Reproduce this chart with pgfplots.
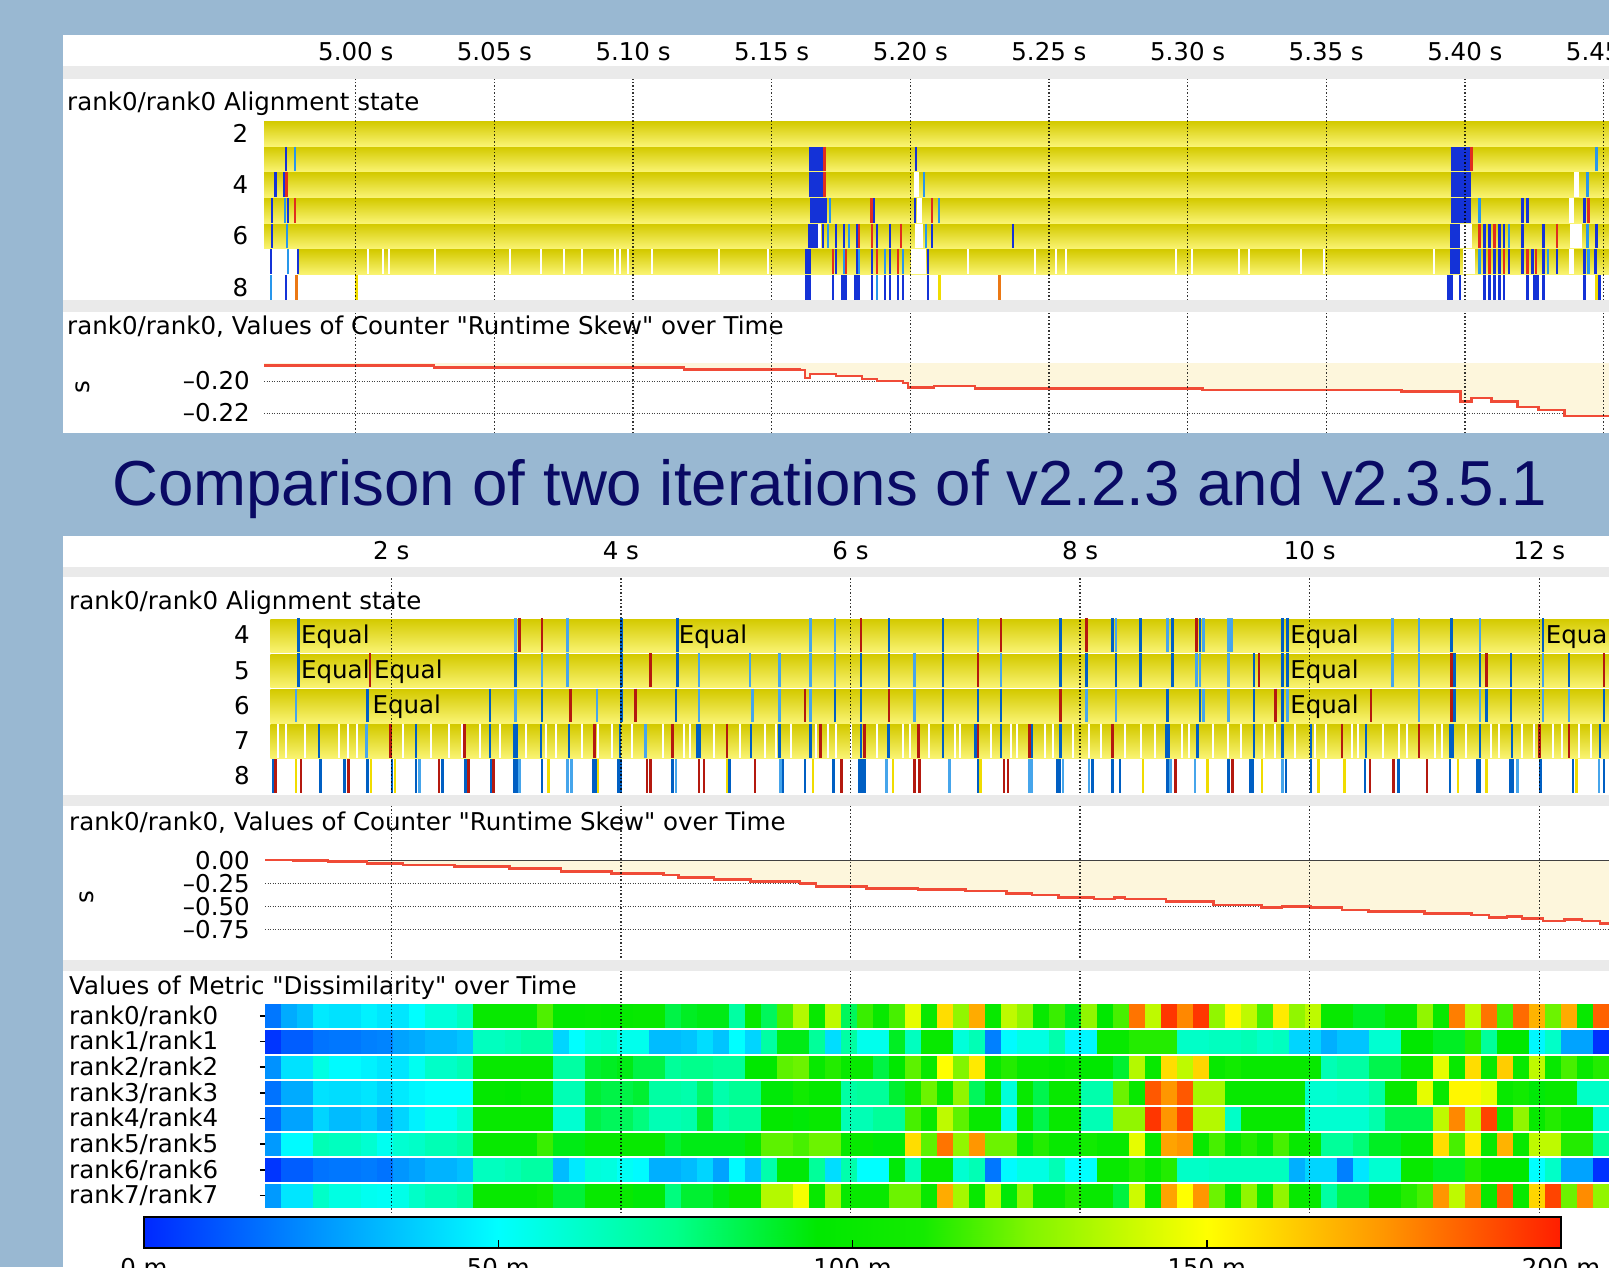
\documentclass[border=0pt]{standalone}
\usepackage{fontspec}
\setmainfont{DejaVu Sans}[Ligatures=TeXOff]
\newfontfamily\titlefont{Liberation Sans}
\usepackage{pgfplots}
\pgfplotsset{compat=1.18}
\usepackage{pgfplotstable}

\definecolor{bgblue}{RGB}{153,184,210}
\definecolor{bandgray}{RGB}{234,234,234}
\definecolor{ydark}{RGB}{212,202,0}
\definecolor{ylight}{RGB}{250,244,115}
\definecolor{cream}{RGB}{253,246,220}
\definecolor{skewred}{RGB}{240,75,55}
\definecolor{tb}{RGB}{20,50,215}
\definecolor{tlb}{RGB}{40,150,235}
\definecolor{tr}{RGB}{225,45,30}
\definecolor{tor}{RGB}{235,120,20}
\definecolor{bb}{RGB}{0,95,195}
\definecolor{blb}{RGB}{70,165,235}
\definecolor{br}{RGB}{180,25,15}
\definecolor{by}{RGB}{240,220,0}
\definecolor{navy}{RGB}{10,10,100}

\newcommand\lbl{\fontsize{24.5}{29}\selectfont}

\pgfdeclareplotmark{cell}{\pgfpathrectangle{\pgfqpoint{-8.2pt}{-11.25pt}}{\pgfqpoint{16.4pt}{22.5pt}}\pgfusepathqfillstroke}

% Dissimilarity values, one table per rank (84 time cells each)
\pgfplotstableread[row sep=\\]{v\\18\\30\\35\\45\\43\\43\\47\\44\\44\\50\\58\\58\\64\\100\\100\\100\\100\\118\\98\\98\\100\\98\\98\\100\\100\\85\\90\\92\\92\\70\\100\\82\\117\\135\\100\\137\\82\\115\\100\\117\\145\\100\\158\\128\\170\\100\\137\\128\\100\\115\\92\\128\\95\\117\\182\\137\\195\\178\\195\\128\\152\\137\\117\\155\\128\\137\\100\\100\\90\\90\\100\\100\\128\\100\\180\\137\\182\\117\\184\\168\\122\\170\\100\\186\\}\rankA
\pgfplotstableread[row sep=\\]{v\\3\\12\\12\\17\\18\\18\\20\\21\\28\\30\\33\\33\\36\\64\\64\\66\\70\\70\\40\\50\\58\\60\\54\\54\\34\\34\\36\\42\\36\\50\\40\\70\\92\\92\\72\\42\\70\\54\\54\\90\\64\\100\\100\\58\\66\\20\\49\\56\\56\\68\\48\\48\\100\\100\\112\\112\\112\\62\\62\\64\\64\\66\\62\\64\\40\\40\\31\\36\\36\\60\\60\\95\\95\\90\\90\\112\\72\\95\\95\\48\\62\\28\\28\\2\\}\rankB
\pgfplotstableread[row sep=\\]{v\\24\\43\\43\\56\\49\\49\\47\\44\\44\\53\\62\\62\\66\\100\\100\\100\\100\\100\\70\\70\\88\\90\\92\\85\\85\\72\\75\\75\\72\\72\\95\\95\\120\\122\\100\\112\\100\\100\\85\\95\\120\\100\\150\\125\\155\\100\\112\\100\\100\\96\\100\\95\\95\\88\\135\\100\\158\\137\\160\\100\\108\\100\\100\\100\\100\\100\\66\\70\\70\\84\\84\\100\\100\\145\\100\\158\\100\\162\\100\\137\\100\\117\\100\\112\\}\rankC
\pgfplotstableread[row sep=\\]{v\\17\\30\\30\\43\\42\\42\\44\\40\\45\\48\\50\\50\\50\\97\\97\\95\\100\\100\\66\\66\\88\\85\\85\\88\\70\\70\\68\\80\\68\\73\\73\\94\\94\\108\\98\\98\\70\\72\\72\\88\\106\\122\\100\\128\\82\\100\\58\\100\\84\\100\\100\\68\\68\\122\\100\\188\\175\\188\\132\\132\\100\\100\\100\\100\\100\\60\\60\\62\\62\\70\\100\\100\\145\\100\\152\\152\\145\\100\\108\\94\\100\\100\\62\\62\\}\rankD
\pgfplotstableread[row sep=\\]{v\\15\\28\\28\\40\\34\\34\\37\\31\\40\\47\\53\\53\\60\\100\\100\\100\\100\\100\\60\\60\\85\\82\\82\\77\\66\\66\\68\\88\\68\\72\\72\\97\\97\\94\\100\\100\\66\\66\\72\\72\\117\\100\\137\\120\\100\\100\\54\\100\\84\\100\\100\\66\\66\\128\\128\\195\\175\\192\\135\\135\\62\\100\\100\\100\\100\\60\\60\\60\\60\\68\\84\\84\\84\\137\\178\\137\\192\\100\\128\\100\\112\\100\\100\\60\\}\rankE
\pgfplotstableread[row sep=\\]{v\\26\\49\\49\\66\\64\\64\\60\\53\\60\\62\\66\\66\\70\\100\\100\\100\\100\\115\\92\\92\\100\\100\\100\\100\\100\\88\\92\\92\\92\\92\\100\\120\\120\\117\\122\\122\\100\\100\\94\\94\\158\\120\\182\\128\\175\\122\\122\\94\\112\\100\\100\\108\\100\\100\\145\\100\\172\\175\\100\\117\\100\\112\\100\\117\\100\\100\\72\\72\\78\\90\\90\\100\\100\\158\\117\\155\\100\\168\\100\\137\\137\\112\\112\\72\\}\rankF
\pgfplotstableread[row sep=\\]{v\\3\\12\\12\\17\\18\\18\\19\\17\\25\\28\\32\\32\\35\\64\\64\\66\\70\\70\\34\\45\\58\\57\\52\\49\\31\\31\\34\\40\\28\\49\\35\\68\\94\\94\\72\\42\\68\\50\\50\\94\\66\\100\\100\\60\\66\\18\\49\\56\\56\\66\\50\\50\\100\\100\\112\\100\\112\\62\\62\\64\\64\\64\\64\\64\\31\\40\\40\\20\\44\\60\\60\\100\\100\\90\\90\\112\\95\\95\\95\\50\\62\\28\\28\\2\\}\rankG
\pgfplotstableread[row sep=\\]{v\\26\\44\\44\\62\\56\\56\\53\\52\\55\\62\\66\\66\\70\\100\\100\\100\\100\\106\\87\\87\\100\\100\\100\\94\\94\\77\\88\\88\\92\\100\\100\\135\\135\\148\\100\\132\\100\\100\\100\\122\\122\\100\\170\\132\\100\\137\\94\\128\\100\\100\\112\\100\\100\\86\\140\\100\\172\\150\\175\\122\\100\\128\\100\\128\\100\\100\\70\\84\\84\\100\\100\\112\\117\\175\\137\\175\\100\\186\\100\\160\\192\\122\\177\\128\\}\rankH

\pgfplotsset{
  panel/.style={scale only axis, anchor=north west, axis line style={draw=none},
    tick style={draw=none}, major tick length=0pt, tick label style={font=\lbl}},
  gridax/.style={panel, ymin=0, ymax=1, ytick=\empty, xmajorgrids,
    grid style={black, line width=1.3pt, dash pattern=on 1.3pt off 2.2pt, opacity=0.8},
    xticklabel pos=upper, xticklabel style={anchor=base, inner sep=0pt}},
  tstripe/.style 2 args={only marks, mark=|, mark size=12.2pt, mark options={draw=#1, line width=#2}},
  bstripe/.style 2 args={only marks, mark=|, mark size=16.8pt, mark options={draw=#1, line width=#2}},
  band/.style={draw=none, top color=ydark, bottom color=ylight},
  hm/.style={scatter, only marks, mark=cell, point meta=explicit,
    scatter/use mapped color={draw=mapped color, fill=mapped color}, mark options={line width=0.4pt}},
  vampcmap/.style={colormap={vamp}{rgb255(0pt)=(0,40,255); rgb255(25pt)=(0,150,255); rgb255(50pt)=(0,255,255); rgb255(75pt)=(0,255,140); rgb255(95pt)=(0,232,0); rgb255(110pt)=(20,235,0); rgb255(125pt)=(130,245,0); rgb255(150pt)=(255,255,0); rgb255(175pt)=(255,150,0); rgb255(200pt)=(255,30,0)},
    point meta min=0, point meta max=200},
}

\begin{document}
\begin{tikzpicture}
\useasboundingbox (0pt,0pt) rectangle (1609pt,-1267pt);
\clip (0pt,0pt) rectangle (1609pt,-1267pt);
\fill[bgblue] (0pt,0pt) rectangle (1609pt,-1267pt);
\fill[white] (63pt,-35pt) rectangle (1609pt,-433pt);
\fill[white] (63pt,-536pt) rectangle (1609pt,-1267pt);

% ---------------- top: alignment state ----------------
\begin{axis}[panel, at={(264pt,-120.5pt)}, width=1345pt, height=179.67pt,
  xmin=4.9669, xmax=5.4520, ymin=1.5, ymax=8.5, y dir=reverse, xtick=\empty,
  ytick={2,4,6,8}, yticklabels={2,4,6,8},
  yticklabel style={anchor=east, inner sep=0pt, xshift=-15.5pt}]
\addplot[band] coordinates {(4.9669,1.54) (5.4520,1.54) (5.4520,2.5) (4.9669,2.5)};
\addplot[band] coordinates {(4.9669,2.54) (5.4520,2.54) (5.4520,3.5) (4.9669,3.5)};
\addplot[band] coordinates {(4.9669,3.54) (5.4520,3.54) (5.4520,4.5) (4.9669,4.5)};
\addplot[band] coordinates {(4.9669,4.54) (5.4520,4.54) (5.4520,5.5) (4.9669,5.5)};
\addplot[band] coordinates {(4.9669,5.54) (5.4520,5.54) (5.4520,6.5) (4.9669,6.5)};
\addplot[band] coordinates {(4.9790,6.54) (5.4520,6.54) (5.4520,7.5) (4.9790,7.5)};
% white gaps
\addplot[tstripe={white}{2pt}] coordinates {(5.0044,7) (5.0098,7) (5.0120,7) (5.0286,7) (5.0556,7) (5.0668,7) (5.0751,7) (5.0816,7) (5.0935,7) (5.0953,7) (5.0982,7) (5.1069,7) (5.1311,7) (5.1487,7) (5.2207,7) (5.2449,7) (5.2524,7) (5.2561,7) (5.2957,7) (5.3017,7) (5.3185,7) (5.3222,7) (5.3408,7) (5.3492,7) (5.3888,7)};
\addplot[tstripe={white}{5pt}] coordinates {(5.2021,4) (5.2032,5) (5.1670,6) (5.4384,5) (5.4384,7) (5.4402,4)};
\addplot[tstripe={white}{8pt}] coordinates {(5.2032,6)};
\addplot[tstripe={white}{12pt}] coordinates {(5.4003,6) (5.4402,6) (5.4016,7)};
\addplot[tstripe={white}{15pt}] coordinates {(5.2030,7)};
% blue blocks
\addplot[tstripe={tb}{14pt}] coordinates {(5.1660,3) (5.1660,4)};
\addplot[tstripe={tb}{17pt}] coordinates {(5.1668,5)};
\addplot[tstripe={tb}{10pt}] coordinates {(5.1650,6) (5.3965,6) (5.3965,7)};
\addplot[tstripe={tb}{20pt}] coordinates {(5.3987,3) (5.3987,4) (5.3987,5)};
\addplot[tstripe={tb}{6pt}] coordinates {(5.1631,7) (5.1631,8) (5.3947,8) (5.4257,8) (5.1761,8) (5.1808,8)};
% thin stripes
\addplot[tstripe={tb}{2.5pt}] coordinates {(4.9748,3) (5.2021,3) (4.9710,4) (4.9741,4) (4.9698,5) (4.9755,5) (5.1868,5) (5.2017,5) (5.4207,5) (5.4225,5) (5.4431,5) (4.9698,6) (5.1685,6) (5.1732,6) (5.1761,6) (5.1808,6) (5.1880,6) (5.1927,6) (5.2079,6) (5.2371,6) (5.4070,6) (5.4088,6) (5.4124,6) (5.4142,6) (5.4207,6) (5.4283,6) (5.4474,6) (4.9694,7) (4.9791,7) (5.1732,7) (5.1808,7) (5.1862,7) (5.1927,7) (5.2064,7) (5.4070,7) (5.4106,7) (5.4124,7) (5.4160,7) (5.4207,7) (5.4243,7) (5.4283,7) (5.4333,7) (5.4431,7) (5.4471,7) (4.9748,8) (5.1722,8) (5.1768,8) (5.1862,8) (5.1909,8) (5.1927,8) (5.1956,8) (5.1974,8) (5.2064,8) (5.3983,8) (5.4070,8) (5.4088,8) (5.4106,8) (5.4124,8) (5.4142,8) (5.4225,8) (5.4283,8) (5.4431,8) (5.4485,8)};
\addplot[tstripe={tlb}{2.5pt}] coordinates {(4.9781,3) (5.4474,3) (5.2050,4) (5.4442,4) (4.9744,5) (5.1711,5) (5.2104,5) (5.4052,5) (4.9752,6) (5.1703,6) (5.1779,6) (5.2057,6) (5.4160,6) (5.4442,6) (4.9755,7) (5.1761,7) (5.1815,7) (5.1909,7) (5.1974,7) (5.4052,7) (5.4300,7) (5.4445,7) (4.9694,8) (5.1880,8)};
\addplot[tstripe={tr}{2.5pt}] coordinates {(5.1690,3) (5.4023,3) (4.9750,4) (5.1690,4) (4.9781,5) (5.1860,5) (5.2079,5) (5.4445,5) (5.1815,6) (5.1862,6) (5.1967,6) (5.4052,6) (5.4106,6) (5.4333,6) (5.1722,7) (5.1768,7) (5.1880,7) (5.1956,7) (5.4088,7) (5.4142,7) (5.4225,7) (5.4257,7)};
\addplot[tstripe={tor}{3pt}] coordinates {(4.9788,8) (5.2320,8)};
\addplot[tstripe={by}{3pt}] coordinates {(5.0004,8) (5.2107,8) (5.4474,8)};
\end{axis}

% ---------------- top: runtime skew ----------------
\begin{axis}[panel, at={(264pt,-363pt)}, width=1345pt, height=62pt,
  xmin=4.9669, xmax=5.4520, ymin=-0.2275, ymax=-0.18875, xtick=\empty,
  ytick={-0.22,-0.20}, yticklabels={–0.22,–0.20},
  ymajorgrids, grid style={black!75, line width=1pt, dash pattern=on 1pt off 1.5pt},
  yticklabel style={anchor=east, inner sep=0pt, xshift=-14pt},
  ylabel={s}, ylabel style={font=\lbl, at={(axis description cs:-0.1346,0.613)}, anchor=center}]
\addplot[const plot, fill=cream, draw=none] coordinates {(4.9669,-0.1904) (5.0282,-0.1917) (5.1184,-0.1927) (5.1602,-0.1931) (5.1620,-0.1981) (5.1638,-0.1956) (5.1732,-0.1969) (5.1826,-0.1988) (5.1880,-0.2000) (5.1974,-0.2014) (5.1992,-0.2042) (5.2086,-0.2031) (5.2234,-0.2046) (5.3053,-0.2056) (5.3771,-0.2067) (5.3984,-0.2129) (5.4023,-0.2106) (5.4096,-0.2129) (5.4189,-0.2161) (5.4265,-0.2181) (5.4359,-0.2219) (5.4520,-0.2219)} \closedcycle;
\addplot[const plot, skewred, line width=2.5pt] coordinates {(4.9669,-0.1904) (5.0282,-0.1917) (5.1184,-0.1927) (5.1602,-0.1931) (5.1620,-0.1981) (5.1638,-0.1956) (5.1732,-0.1969) (5.1826,-0.1988) (5.1880,-0.2000) (5.1974,-0.2014) (5.1992,-0.2042) (5.2086,-0.2031) (5.2234,-0.2046) (5.3053,-0.2056) (5.3771,-0.2067) (5.3984,-0.2129) (5.4023,-0.2106) (5.4096,-0.2129) (5.4189,-0.2161) (5.4265,-0.2181) (5.4359,-0.2219) (5.4520,-0.2219)};
\end{axis}

% ---------------- bottom: alignment state ----------------
\begin{axis}[panel, at={(265pt,-617.4pt)}, width=1344pt, height=176.25pt,
  xmin=0.8998, xmax=12.6071, ymin=3.5, ymax=8.5, y dir=reverse, xtick=\empty,
  ytick={4,5,6,7,8}, yticklabels={4,5,6,7,8},
  yticklabel style={anchor=east, inner sep=0pt, xshift=-15pt}]
\addplot[band] coordinates {(0.947,3.55) (12.6071,3.55) (12.6071,4.5) (0.947,4.5)};
\addplot[band] coordinates {(0.947,4.55) (12.6071,4.55) (12.6071,5.5) (0.947,5.5)};
\addplot[band] coordinates {(0.947,5.55) (12.6071,5.55) (12.6071,6.5) (0.947,6.5)};
\addplot[band] coordinates {(0.947,6.55) (12.6071,6.55) (12.6071,7.5) (0.947,7.5)};
\addplot[bstripe={white}{2pt}] coordinates {(1.014,7) (1.080,7) (1.250,7) (1.547,7) (1.620,7) (1.703,7) (2.000,7) (2.103,7) (2.347,7) (2.503,7) (2.620,7) (2.769,7) (2.950,7) (3.169,7) (3.350,7) (3.436,7) (3.658,7) (3.800,7) (3.925,7) (4.100,7) (4.369,7) (4.550,7) (4.600,7) (4.814,7) (5.036,7) (5.258,7) (5.350,7) (5.480,7) (5.700,7) (5.807,7) (5.875,7) (6.000,7) (6.234,7) (6.459,7) (6.520,7) (6.684,7) (6.909,7) (6.950,7) (7.223,7) (7.400,7) (7.448,7) (7.695,7) (7.760,7) (7.942,7) (8.077,7) (8.180,7) (8.392,7) (8.527,7) (8.650,7) (8.886,7) (8.950,7) (9.156,7) (9.291,7) (9.400,7) (9.605,7) (9.700,7) (9.875,7) (10.050,7) (10.145,7) (10.369,7) (10.420,7) (10.639,7) (10.774,7) (10.850,7) (11.089,7) (11.150,7) (11.358,7) (11.583,7) (11.650,7) (11.853,7) (11.950,7) (12.123,7) (12.200,7) (12.347,7) (12.450,7)};
\addplot[bstripe={bb}{5pt}] coordinates {(3.080,7) (4.680,7) (8.760,7) (11.233,7)};
\addplot[only marks, mark=|, mark size=17pt, mark options={draw=bb, line width=5pt}] coordinates {(3.080,8) (3.769,8) (3.992,8) (6.091,8) (7.808,8) (9.493,8) (11.471,8) (11.754,8)};
\addplot[bstripe={bb}{2.5pt}] coordinates {(1.192,4) (4.004,4) (4.494,4) (6.334,4) (6.805,4) (7.830,4) (8.280,4) (8.527,4) (8.805,4) (9.044,4) (9.763,4) (9.807,4) (11.233,4) (12.032,4) (1.192,5) (3.080,5) (4.004,5) (4.494,5) (6.091,5) (6.334,5) (6.805,5) (7.830,5) (8.055,5) (8.311,5) (8.527,5) (8.805,5) (9.516,5) (9.763,5) (9.807,5) (11.260,5) (11.485,5) (11.754,5) (12.257,5) (1.791,6) (2.858,6) (3.311,6) (4.004,6) (4.480,6) (5.866,6) (6.091,6) (6.805,6) (7.111,6) (7.313,6) (8.760,6) (9.044,6) (9.516,6) (9.763,6) (11.260,6) (11.539,6) (11.754,6) (12.563,6) (1.369,7) (2.214,7) (2.858,7) (3.303,7) (3.547,7) (3.992,7) (5.134,7) (5.383,7) (5.650,7) (6.091,7) (6.333,7) (6.805,7) (7.088,7) (7.313,7) (7.583,7) (7.830,7) (9.021,7) (9.516,7) (9.763,7) (10.010,7) (10.491,7) (11.484,7) (11.763,7) (12.527,7)};
\addplot[only marks, mark=|, mark size=17pt, mark options={draw=bb, line width=2.5pt}] coordinates {(0.969,8) (1.383,8) (1.592,8) (1.792,8) (2.005,8) (2.214,8) (2.445,8) (2.645,8) (2.867,8) (3.311,8) (4.449,8) (4.947,8) (5.414,8) (5.605,8) (5.852,8) (6.122,8) (7.111,8) (8.109,8) (8.280,8) (8.347,8) (8.760,8) (9.291,8) (9.794,8) (10.010,8) (10.482,8) (10.774,8) (11.224,8) (12.010,8) (12.293,8) (12.563,8)};
\addplot[bstripe={blb}{2.5pt}] coordinates {(3.080,4) (3.533,4) (5.650,4) (5.866,4) (7.111,4) (8.311,4) (8.760,4) (9.075,4) (9.291,4) (9.318,4) (10.721,4) (10.954,4) (11.485,4) (3.311,5) (3.533,5) (4.680,5) (5.125,5) (5.382,5) (5.650,5) (5.866,5) (6.558,5) (7.313,5) (9.012,5) (9.044,5) (9.291,5) (10.721,5) (10.954,5) (12.032,5) (1.170,6) (3.080,6) (3.791,6) (4.680,6) (5.147,6) (5.382,6) (5.650,6) (6.558,6) (8.055,6) (8.311,6) (9.075,6) (9.291,6) (9.807,6) (10.954,6) (11.485,6) (12.032,6) (12.257,6) (1.782,7) (4.214,7)};
\addplot[only marks, mark=|, mark size=17pt, mark options={draw=blb, line width=2.5pt}] coordinates {(2.245,8) (3.116,8) (3.534,8) (3.569,8) (4.480,8) (5.392,8) (6.315,8) (6.864,8) (7.560,8) (7.583,8) (7.852,8) (8.077,8) (8.787,8) (8.999,8) (9.763,8) (11.808,8) (12.518,8)};
\addplot[bstripe={br}{2.5pt}] coordinates {(3.116,4) (3.311,4) (6.091,4) (7.313,4) (8.055,4) (9.012,4) (1.814,5) (4.258,5) (7.111,5) (9.560,5) (11.233,5) (11.539,5) (12.563,5) (3.560,6) (4.125,6) (5.605,6) (6.334,6) (7.830,6) (9.704,6) (10.536,6) (11.233,6) (1.991,7) (2.636,7) (3.769,7) (4.449,7) (4.925,7) (5.740,7) (6.122,7) (6.594,7) (7.111,7) (7.560,7) (8.280,7) (10.280,7) (10.954,7) (12.001,7) (12.257,7)};
\addplot[only marks, mark=|, mark size=17pt, mark options={draw=br, line width=2.5pt}] coordinates {(0.991,8) (1.214,8) (1.627,8) (2.414,8) (2.672,8) (2.889,8) (4.227,8) (4.258,8) (4.680,8) (4.725,8) (5.169,8) (5.920,8) (6.558,8) (6.603,8) (7.336,8) (7.372,8) (8.832,8) (9.327,8) (10.527,8) (10.729,8) (11.021,8)};
\addplot[only marks, mark=|, mark size=17pt, mark options={draw=by, line width=2.5pt}] coordinates {(1.169,8) (1.823,8) (2.030,8) (3.369,8) (3.800,8) (4.925,8) (5.672,8) (6.369,8) (7.133,8) (8.549,8) (9.111,8) (9.583,8) (10.077,8) (10.302,8) (11.291,8) (11.538,8) (12.325,8)};
\node[anchor=base west, inner sep=0pt, font=\lbl, yshift=-8.3pt] at (axis cs:1.213,4) {Equal};
\node[anchor=base west, inner sep=0pt, font=\lbl, yshift=-8.3pt] at (axis cs:4.503,4) {Equal};
\node[anchor=base west, inner sep=0pt, font=\lbl, yshift=-8.3pt] at (axis cs:9.830,4) {Equal};
\node[anchor=base west, inner sep=0pt, font=\lbl, yshift=-8.3pt] at (axis cs:12.055,4) {Equal};
\node[anchor=base west, inner sep=0pt, font=\lbl, yshift=-8.3pt] at (axis cs:1.213,5) {Equal};
\node[anchor=base west, inner sep=0pt, font=\lbl, yshift=-8.3pt] at (axis cs:1.849,5) {Equal};
\node[anchor=base west, inner sep=0pt, font=\lbl, yshift=-8.3pt] at (axis cs:9.830,5) {Equal};
\node[anchor=base west, inner sep=0pt, font=\lbl, yshift=-8.3pt] at (axis cs:1.835,6) {Equal};
\node[anchor=base west, inner sep=0pt, font=\lbl, yshift=-8.3pt] at (axis cs:9.830,6) {Equal};
\end{axis}

% ---------------- bottom: runtime skew ----------------
\begin{axis}[panel, at={(265pt,-857.9pt)}, width=1344pt, height=81.3pt,
  xmin=0.8998, xmax=12.6071, ymin=-0.85, ymax=0.03, xtick=\empty,
  ytick={-0.75,-0.5,-0.25,0}, yticklabels={–0.75,–0.50,–0.25,0.00},
  ymajorgrids, grid style={black!75, line width=1pt, dash pattern=on 1pt off 1.5pt},
  yticklabel style={anchor=east, inner sep=0pt, xshift=-15pt},
  ylabel={s}, ylabel style={font=\lbl, at={(axis description cs:-0.1324,0.519)}, anchor=center}]
\addplot[const plot, fill=cream, draw=none] coordinates {(0.900,0.008) (1.150,0.0) (1.450,-0.011) (1.790,-0.030) (2.100,-0.047) (2.550,-0.065) (3.030,-0.083) (3.480,-0.119) (3.920,-0.137) (4.370,-0.155) (4.500,-0.180) (4.810,-0.202) (5.130,-0.227) (5.560,-0.245) (5.700,-0.281) (6.140,-0.299) (6.590,-0.310) (7.000,-0.328) (7.360,-0.353) (7.580,-0.371) (7.810,-0.397) (8.120,-0.415) (8.300,-0.397) (8.390,-0.415) (8.750,-0.443) (9.160,-0.479) (9.580,-0.508) (9.760,-0.497) (10.010,-0.505) (10.280,-0.534) (10.510,-0.552) (11.000,-0.570) (11.410,-0.588) (11.560,-0.617) (11.720,-0.606) (11.850,-0.624) (12.030,-0.653) (12.220,-0.635) (12.370,-0.653) (12.530,-0.678) (12.607,-0.678)} \closedcycle;
\addplot[black!75, line width=1.5pt] coordinates {(0.8998,0) (12.6071,0)};
\addplot[const plot, skewred, line width=2.5pt] coordinates {(0.900,0.008) (1.150,0.0) (1.450,-0.011) (1.790,-0.030) (2.100,-0.047) (2.550,-0.065) (3.030,-0.083) (3.480,-0.119) (3.920,-0.137) (4.370,-0.155) (4.500,-0.180) (4.810,-0.202) (5.130,-0.227) (5.560,-0.245) (5.700,-0.281) (6.140,-0.299) (6.590,-0.310) (7.000,-0.328) (7.360,-0.353) (7.580,-0.371) (7.810,-0.397) (8.120,-0.415) (8.300,-0.397) (8.390,-0.415) (8.750,-0.443) (9.160,-0.479) (9.580,-0.508) (9.760,-0.497) (10.010,-0.505) (10.280,-0.534) (10.510,-0.552) (11.000,-0.570) (11.410,-0.588) (11.560,-0.617) (11.720,-0.606) (11.850,-0.624) (12.030,-0.653) (12.220,-0.635) (12.370,-0.653) (12.530,-0.678) (12.607,-0.678)};
\end{axis}

% ---------------- bottom: dissimilarity heat map ----------------
\begin{axis}[scale only axis, anchor=north west, at={(265pt,-1003pt)}, width=1344pt, height=205.4pt,
  xmin=-0.5, xmax=83.5, ymin=-0.5, ymax=7.5, y dir=reverse,
  axis line style={draw=none}, xtick=\empty,
  ytick={0,1,2,3,4,5,6,7},
  yticklabels={rank0/rank0,rank1/rank1,rank2/rank2,rank3/rank3,rank4/rank4,rank5/rank5,rank6/rank6,rank7/rank7},
  ytick pos=left, tick align=outside, major tick length=5pt,
  ytick style={draw=black, line width=1.5pt},
  yticklabel style={font=\lbl, anchor=west, inner sep=0pt, xshift=-191pt},
  vampcmap]
\addplot[hm] table[x index=0, y index=0, x expr=\coordindex, y expr=0, meta=v] {\rankA};
\addplot[hm] table[x index=0, y index=0, x expr=\coordindex, y expr=1, meta=v] {\rankB};
\addplot[hm] table[x index=0, y index=0, x expr=\coordindex, y expr=2, meta=v] {\rankC};
\addplot[hm] table[x index=0, y index=0, x expr=\coordindex, y expr=3, meta=v] {\rankD};
\addplot[hm] table[x index=0, y index=0, x expr=\coordindex, y expr=4, meta=v] {\rankE};
\addplot[hm] table[x index=0, y index=0, x expr=\coordindex, y expr=5, meta=v] {\rankF};
\addplot[hm] table[x index=0, y index=0, x expr=\coordindex, y expr=6, meta=v] {\rankG};
\addplot[hm] table[x index=0, y index=0, x expr=\coordindex, y expr=7, meta=v] {\rankH};
\end{axis}

% ---------------- colour scale ----------------
\begin{axis}[scale only axis, anchor=north west, at={(144pt,-1217pt)}, width=1417pt, height=31pt,
  xmin=0, xmax=200, ymin=0, ymax=1, ytick=\empty, axis on top,
  xtick={0,50,100,150,200}, xticklabels={0 m,50 m,100 m,150 m,200 m},
  xticklabel style={font=\lbl, inner sep=0pt, anchor=north, yshift=-10pt},
  axis line style={draw=black, line width=2pt},
  tick align=inside, major tick length=8pt, xtick pos=left,
  xtick style={draw=black, line width=1.5pt}, vampcmap]
\addplot[surf, shader=interp, point meta=x, mesh/cols=10] coordinates {
(0,0) (25,0) (50,0) (75,0) (95,0) (110,0) (125,0) (150,0) (175,0) (200,0)
(0,1) (25,1) (50,1) (75,1) (95,1) (110,1) (125,1) (150,1) (175,1) (200,1)};
\end{axis}

% ---------------- time grids with tick labels ----------------
\begin{axis}[gridax, at={(264pt,-79pt)}, width=1345pt, height=354pt,
  xmin=4.9669, xmax=5.4520,
  xtick={5.00,5.05,5.10,5.15,5.20,5.25,5.30,5.35,5.40,5.45},
  xticklabels={5.00 s,5.05 s,5.10 s,5.15 s,5.20 s,5.25 s,5.30 s,5.35 s,5.40 s,5.45 s},
  xticklabel style={yshift=19pt}]
\end{axis}
\begin{axis}[gridax, at={(265pt,-577pt)}, width=1344pt, height=636pt,
  xmin=0.8998, xmax=12.6071,
  xtick={2,4,6,8,10,12}, xticklabels={2 s,4 s,6 s,8 s,10 s,12 s},
  xticklabel style={yshift=17.7pt}]
\end{axis}

% ---------------- separators and titles ----------------
\fill[bandgray] (63pt,-66pt) rectangle (1609pt,-79pt);
\fill[bandgray] (63pt,-300pt) rectangle (1609pt,-312pt);
\fill[bandgray] (63pt,-567pt) rectangle (1609pt,-577pt);
\fill[bandgray] (63pt,-795pt) rectangle (1609pt,-806pt);
\fill[bandgray] (63pt,-960pt) rectangle (1609pt,-971pt);

\node[anchor=base west, inner sep=0pt, font=\lbl] at (67pt,-110pt) {rank0/rank0 Alignment state};
\node[anchor=base west, inner sep=0pt, font=\lbl] at (67pt,-334pt) {rank0/rank0, Values of Counter "Runtime Skew" over Time};
\node[anchor=base west, inner sep=0pt, font=\lbl] at (69pt,-609pt) {rank0/rank0 Alignment state};
\node[anchor=base west, inner sep=0pt, font=\lbl] at (69pt,-830pt) {rank0/rank0, Values of Counter "Runtime Skew" over Time};
\node[anchor=base west, inner sep=0pt, font=\lbl] at (69pt,-994pt) {Values of Metric "Dissimilarity" over Time};

\node[anchor=base west, inner sep=0pt, text=navy, font=\titlefont\fontsize{63.6}{70}\selectfont] at (112pt,-505pt) {Comparison of two iterations of v2.2.3 and v2.3.5.1};
\end{tikzpicture}
\end{document}
